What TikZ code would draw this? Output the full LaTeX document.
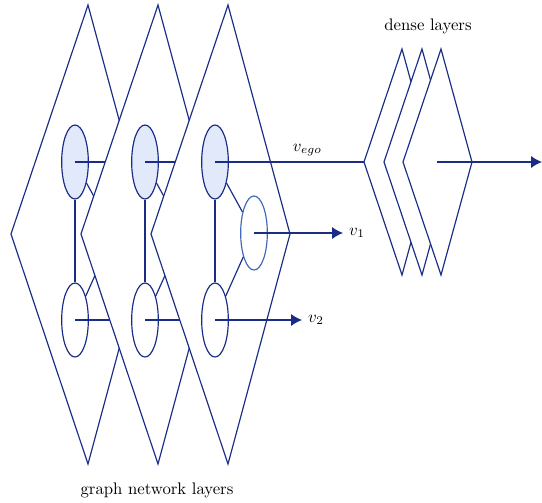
\documentclass[tikz,border=0pt]{standalone}
\usepackage{amsmath}
\usepackage{tikz}
\usetikzlibrary{arrows.meta,shapes.geometric}

\definecolor{netblue}{RGB}{25,45,135}
\definecolor{nodeblue}{RGB}{65,105,185}
\definecolor{egofill}{RGB}{226,233,251}

\begin{document}
\begin{tikzpicture}[x=0.021cm,y=-0.021cm,line width=0.7pt,netblue,text=black,
                    >={Latex[length=6.5pt,width=7.2pt]},
                    layer/.style={draw=netblue,fill=white},
                    main node/.style={ellipse,draw=netblue,inner sep=0pt,
                                      minimum width=0.56cm,minimum height=1.554cm},
                    ego node/.style={main node,fill=egofill},
                    out node/.style={main node,draw=nodeblue}]

  \useasboundingbox (0,0) rectangle (542,502);

  % graph network layers, each one hides the one before
  \foreach \i/\x in {1/88,2/158,3/228} {
    \path[layer] (\x,5) -- (\x-77,234) -- (\x,464) -- (\x+62,234) -- cycle;
    \node[ego node] (top\i) at (\x-13,162) {};
    \node[main node] (bot\i) at (\x-13,320) {};
    \node[out node] (nb\i) at (\x+26,233) {};
    \path
      (top\i) edge (bot\i)
              edge (nb\i)
      (bot\i) edge (nb\i);
    \draw (top\i.center) -- ++(87,0) coordinate (e\i);
    \draw[->] (nb\i.center) -- ++(89,0) coordinate (a\i);
    \draw[->] (bot\i.center) -- ++(87,0) coordinate (b\i);
  }
  \node[right] at (a3) {$v_1$};
  \node[right] at (b3) {$v_2$};

  % dense layers
  \foreach \i/\x in {1/402,2/422,3/441}
    \path[layer] (\x,49) -- (\x-38,162) coordinate (d\i) -- (\x,275) -- (\x+31,162) -- cycle;
  \draw (top3.center) -- node[above,pos=0.62] {$v_{ego}$} (d1);
  \coordinate (dc) at (437,162);
  \coordinate (out) at (542,162);
  \draw[->] (dc) -- (out);

  \node at (428,26) {dense layers};
  \node at (157,490) {graph network layers};
\end{tikzpicture}
\end{document}
